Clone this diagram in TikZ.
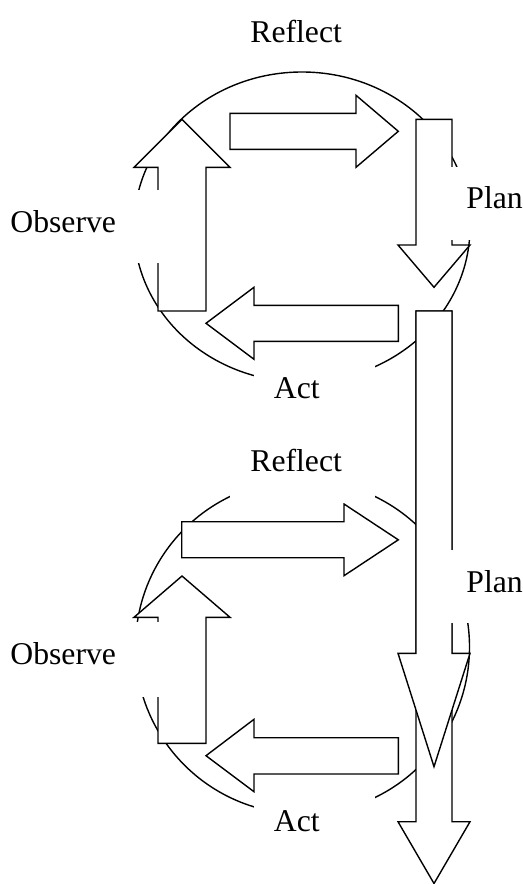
\documentclass[tikz,border=0pt]{standalone}
\usepackage{fontspec}
\setmainfont{Liberation Serif}
\usepackage{tikz}
\usetikzlibrary{positioning}

\begin{document}
\begin{tikzpicture}[x=0.5pt,y=0.5pt]
\tikzstyle{blk}=[draw=black,fill=white,line width=0.7pt,line join=miter]
\tikzstyle{lbl}=[fill=white,anchor=north west,inner ysep=0pt,align=left,font=\fontsize{15.85pt}{19pt}\selectfont]
\useasboundingbox (0,0) rectangle (523,-884);
% the two cycles
\draw [black,line width=0.7pt] (302,-227) ellipse [x radius=168,y radius=155];
\draw [black,line width=0.7pt] (302.5,-647) circle (167);
% first cycle
\draw [blk] (158,-311) -- (158,-167.3) -- (134,-167.3) -- (182,-119.3) -- (230,-167.3) -- (206,-167.3) -- (206,-311) -- cycle;
\draw [blk] (230,-113.3) -- (356,-113.3) -- (356,-95.3) -- (398.3,-131.3) -- (356,-167.3) -- (356,-149.3) -- (230,-149.3) -- cycle;
\draw [blk] (416,-119.3) -- (452,-119.3) -- (452,-245) -- (470,-245) -- (434,-287.3) -- (398,-245) -- (416,-245) -- cycle;
\draw [blk] (398.3,-305.3) -- (254,-305.3) -- (254,-287.3) -- (206,-323.3) -- (254,-359.3) -- (254,-341.3) -- (398.3,-341.3) -- cycle;
% long plan arrow
\draw [blk] (416,-311) -- (452,-311) -- (452,-821.7) -- (470,-821.7) -- (434,-883.5) -- (398,-821.7) -- (416,-821.7) -- cycle;
% second cycle
\draw [blk] (416,-311) -- (452,-311) -- (452,-653.3) -- (470,-653.3) -- (434,-766.7) -- (398,-653.3) -- (416,-653.3) -- cycle;
\draw [blk] (181.7,-521.7) -- (344,-521.7) -- (344,-504) -- (398.3,-539.8) -- (344,-575.7) -- (344,-557.7) -- (181.7,-557.7) -- cycle;
\draw [blk] (158,-743.3) -- (158,-617.3) -- (134,-617.3) -- (182,-576) -- (230,-617.3) -- (206,-617.3) -- (206,-743.3) -- cycle;
\draw [blk] (398.3,-737.7) -- (254,-737.7) -- (254,-719.3) -- (206,-755.7) -- (254,-791.7) -- (254,-774) -- (398.3,-774) -- cycle;
% labels
\node [lbl,inner xsep=10pt,text width=52.5pt,text height=21pt,text depth=12pt] (reflect1) at (230,0) {Reflect};
\node [lbl,inner xsep=7.5pt,text width=35pt,text height=20.5pt,text depth=16pt] (plan1) at (451,-167) {Plan};
\node [lbl,inner xsep=10pt,text width=64.75pt,text height=21pt,text depth=15.5pt] (observe1) at (-10,-190) {Observe};
\node [lbl,inner xsep=9.75pt,text width=41pt,text height=18pt,text depth=18.5pt] (act1) at (254,-362) {Act};
\node [lbl,inner xsep=10pt,text width=52.5pt,text height=20.75pt,text depth=15.75pt] (reflect2) at (230,-430) {Reflect};
\node [lbl,inner xsep=7.5pt,text width=35pt,text height=21pt,text depth=15.5pt] (plan2) at (451,-550) {Plan};
\node [lbl,inner xsep=10pt,text width=64.75pt,text height=21.15pt,text depth=16.35pt] (observe2) at (-10,-621.7) {Observe};
\node [lbl,inner xsep=9.75pt,text width=41pt,text height=19.25pt,text depth=17.25pt] (act2) at (254,-793) {Act};
\end{tikzpicture}
\end{document}
